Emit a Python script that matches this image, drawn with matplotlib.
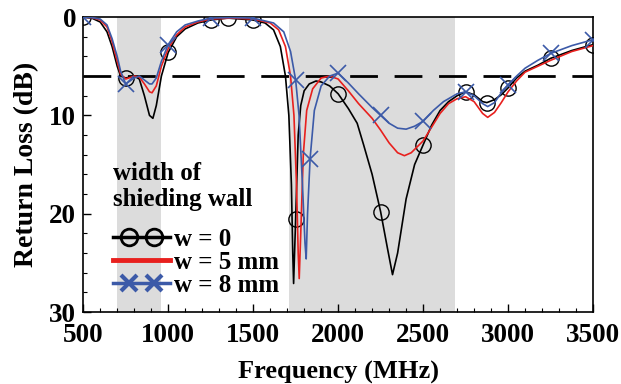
import numpy as np
import matplotlib
matplotlib.use("Agg")
import matplotlib.pyplot as plt
from matplotlib.lines import Line2D
from matplotlib.legend_handler import HandlerLine2D

# readings: frequency (MHz) vs return loss (dB)
f_w0 = [500, 550, 600, 640, 670, 700, 720, 750, 800, 830, 860, 890, 910, 930, 960,
        1000, 1050, 1100, 1175, 1250, 1350, 1500, 1570, 1620, 1660, 1690, 1710, 1725,
        1733, 1738, 1750, 1765, 1780, 1800, 1830, 1870, 1900, 1950, 2000, 2060, 2112,
        2150, 2200, 2250, 2290, 2320, 2350, 2400, 2450, 2500, 2550, 2600, 2650, 2700,
        2750, 2800, 2850, 2875, 2920, 2960, 3000, 3050, 3100, 3175, 3250, 3375, 3500]
rl_w0 = [0, 0.1, 0.5, 1.5, 3.0, 5.0, 6.0, 6.2, 6.0, 6.3, 8.0, 10.0, 10.3, 9.0, 6.0,
         3.6, 2.0, 1.2, 0.6, 0.3, 0.1, 0.3, 0.6, 1.3, 3.0, 6.0, 10.0, 17.0,
         24.0, 27.1, 20.5, 12.0, 9.0, 7.5, 6.8, 6.5, 6.6, 7.0, 7.8, 9.3, 10.8,
         13.0, 16.0, 19.8, 23.5, 26.2, 24.0, 18.5, 15.0, 13.0, 11.0, 9.5, 8.6, 8.0,
         7.6, 7.9, 8.6, 8.7, 8.4, 7.9, 7.2, 6.2, 5.5, 4.9, 4.2, 3.4, 2.8]
mk_w0 = [500, 750, 1000, 1250, 1350, 1500, 1750, 2000, 2250, 2500, 2750, 2875, 3000, 3250, 3500]

f_w5 = [500, 550, 600, 640, 670, 700, 720, 750, 800, 830, 860, 890, 905, 930, 960,
        1000, 1050, 1100, 1175, 1250, 1375, 1500, 1600, 1650, 1690, 1720, 1740, 1755,
        1765, 1771, 1780, 1795, 1815, 1850, 1900, 1950, 2000, 2060, 2120, 2200, 2250,
        2300, 2350, 2390, 2430, 2500, 2550, 2600, 2650, 2700, 2750, 2800, 2850, 2880,
        2920, 2960, 3000, 3050, 3100, 3175, 3250, 3375, 3500]
rl_w5 = [0, 0.05, 0.3, 1.0, 2.5, 4.5, 5.8, 6.3, 6.0, 6.1, 6.8, 7.6, 7.7, 7.0, 5.0,
         3.2, 1.8, 1.0, 0.5, 0.2, 0.1, 0.2, 0.6, 1.3, 3.0, 6.0, 10.0, 17.0,
         24.0, 26.6, 22.0, 14.0, 9.5, 7.3, 6.2, 6.0, 6.3, 7.5, 8.8, 10.3, 11.5,
         12.8, 13.8, 14.1, 13.8, 12.6, 11.2, 9.8, 8.8, 8.3, 8.1, 8.6, 9.8, 10.2,
         9.7, 8.7, 7.6, 6.5, 5.6, 5.0, 4.4, 3.5, 2.9]

f_w8 = [500, 550, 600, 640, 670, 700, 720, 750, 800, 830, 860, 890, 905, 930, 960,
        1000, 1050, 1100, 1175, 1250, 1375, 1500, 1620, 1680, 1720, 1750, 1770, 1790,
        1805, 1812, 1820, 1835, 1860, 1900, 1950, 2000, 2060, 2120, 2200, 2250, 2300,
        2350, 2400, 2450, 2500, 2560, 2620, 2700, 2750, 2800, 2850, 2880, 2920, 2960,
        3000, 3050, 3100, 3175, 3250, 3375, 3500]
rl_w8 = [0, 0.05, 0.2, 0.8, 2.2, 4.0, 5.5, 6.8, 6.2, 6.0, 6.4, 6.8, 6.8, 6.2, 4.5,
         2.8, 1.5, 0.8, 0.4, 0.1, 0.05, 0.1, 0.6, 1.5, 3.5, 6.4, 10.0, 17.0,
         23.0, 24.6, 20.0, 14.4, 9.5, 7.0, 6.0, 5.7, 6.7, 7.8, 9.2, 10.0, 10.8,
         11.3, 11.4, 11.1, 10.6, 9.5, 8.6, 7.8, 7.6, 8.0, 8.8, 9.1, 8.7, 7.7,
         6.9, 6.0, 5.2, 4.4, 3.7, 2.9, 2.3]
mk_w8 = [500, 750, 1000, 1250, 1500, 1750, 1835, 2000, 2250, 2500, 2750, 3000, 3250, 3500]

bands = [(700, 960), (1710, 2690)]
threshold = 6


class LineTwoMarks(HandlerLine2D):
    # full-width line with two markers set in from the ends
    def create_artists(self, legend, orig_handle, xdescent, ydescent,
                       width, height, fontsize, trans):
        y = (height - ydescent) / 2
        x0, x1 = -xdescent, -xdescent + width
        pad = 0.29 * width
        line = Line2D([x0, x1], [y, y])
        self.update_prop(line, orig_handle, legend)
        line.set_marker('None')
        marks = Line2D([x0 + pad, x1 - pad], [y, y])
        self.update_prop(marks, orig_handle, legend)
        marks.set_linestyle('None')
        line.set_transform(trans)
        marks.set_transform(trans)
        return [line, marks]


plt.rcParams['font.family'] = ['Liberation Serif', 'DejaVu Serif']
plt.rcParams['font.weight'] = 'bold'

fig = plt.figure(figsize=(6.21, 3.84), dpi=100)
ax = fig.add_axes([0.134, 0.1875, 0.821, 0.768])

for lo, hi in bands:
    ax.axvspan(lo, hi, color='#dcdcdc', lw=0, zorder=0)

ax.axhline(threshold, color='black', lw=2, dashes=(10, 6), zorder=2)

ax.plot(f_w0, rl_w0, color='black', lw=1.2, marker='o', ms=11, mfc='none', mew=1,
        markevery=list(np.flatnonzero(np.isin(f_w0, mk_w0))), zorder=3)
ax.plot(f_w5, rl_w5, color='#e8201e', lw=1.2, zorder=4)
ax.plot(f_w8, rl_w8, color='#3c5aa8', lw=1.2, marker='x', ms=11, mew=1.2,
        markevery=list(np.flatnonzero(np.isin(f_w8, mk_w8))), zorder=5)

ax.set_xlim(500, 3500)
ax.set_ylim(30, 0)
ax.set_xticks(range(500, 3501, 500))
ax.set_xticks(range(500, 3501, 100), minor=True)
ax.set_yticks([0, 10, 20, 30])
ax.set_yticks(range(0, 31, 2), minor=True)
ax.tick_params(which='both', direction='in', top=False, right=False, labelsize=19.5)
ax.tick_params(which='major', length=6, width=1)
ax.tick_params(which='minor', length=3, width=0.8)
ax.tick_params(axis='x', pad=8)
ax.tick_params(axis='y', pad=5)
for s in ax.spines.values():
    s.set_linewidth(1.2)

ax.set_xlabel('Frequency (MHz)', fontsize=19, fontweight='bold', labelpad=9)
ax.set_ylabel('Return Loss (dB)', fontsize=20, fontweight='bold', labelpad=7)

handles = [
    Line2D([], [], color='black', lw=2.5, marker='o', ms=12, mfc='none', mew=2),
    Line2D([], [], color='#e8201e', lw=3.5),
    Line2D([], [], color='#3c5aa8', lw=2.5, marker='x', ms=12, mew=3),
]
leg = ax.legend(handles, ['w = 0', 'w = 5 mm', 'w = 8 mm'], loc='upper left',
                bbox_to_anchor=(0.058, 0.51), frameon=False, numpoints=2,
                handlelength=2.3, handletextpad=0.15, labelspacing=0.0,
                borderpad=0, borderaxespad=0, title='width of\nshieding wall',
                handler_map={Line2D: LineTwoMarks()},
                prop={'size': 18, 'weight': 'bold'},
                title_fontproperties={'size': 18, 'weight': 'bold'})
leg._legend_box.align = 'left'
leg._legend_box.sep = 12

fig.savefig('out.png', dpi=100)
